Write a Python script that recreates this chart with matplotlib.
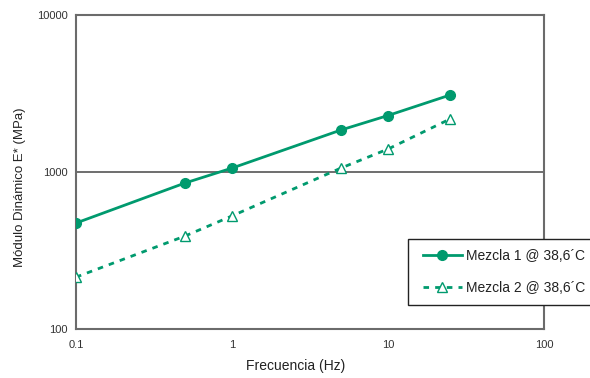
import matplotlib
matplotlib.use('Agg')
import matplotlib.pyplot as plt
from matplotlib.patches import Rectangle
from matplotlib.ticker import FixedLocator, FixedFormatter, NullLocator

plt.rcParams['font.family'] = ['Liberation Sans', 'DejaVu Sans']

# data
freq = [0.1, 0.5, 1, 5, 10, 25]
mezcla1 = [473, 851, 1059, 1852, 2290, 3093]
mezcla2 = [214, 391, 525, 1060, 1400, 2176]
labels = ['Mezcla 1 @ 38,6´C', 'Mezcla 2 @ 38,6´C']

x_ticks = [0.1, 1, 10, 100]
x_ticklabels = ['0.1', '1', '10', '100']
y_ticks = [100, 1000, 10000]
y_ticklabels = ['100', '1000', '10000']

green = '#009a6e'
frame_col = '#6b6b6b'
W, H = 590, 378

fig = plt.figure(figsize=(5.9, 3.78), dpi=100)
ax = fig.add_axes([76/W, 1 - 329/H, 468/W, 314/H])

ax.plot(freq, mezcla1, color=green, lw=2, marker='o', ms=7,
        mfc=green, mec=green, label=labels[0], zorder=3)
ax.plot(freq, mezcla2, color=green, lw=2, ls=(0, (2, 2.2)), marker='^', ms=7,
        mfc='white', mec=green, mew=1.0, label=labels[1], zorder=3)

ax.set_xscale('log')
ax.set_yscale('log')
ax.set_xlim(0.1, 100)
ax.set_ylim(100, 10000)

ax.xaxis.set_major_locator(FixedLocator(x_ticks))
ax.xaxis.set_major_formatter(FixedFormatter(x_ticklabels))
ax.yaxis.set_major_locator(FixedLocator(y_ticks))
ax.yaxis.set_major_formatter(FixedFormatter(y_ticklabels))
ax.xaxis.set_minor_locator(NullLocator())
ax.yaxis.set_minor_locator(NullLocator())
ax.tick_params(axis='both', length=0, labelsize=8, colors='#333333')
ax.tick_params(axis='x', pad=8)
ax.tick_params(axis='y', pad=6)

ax.grid(axis='y', which='major', color='#555555', lw=1.2, zorder=1)
for s in ax.spines.values():
    s.set_color(frame_col)
    s.set_linewidth(1.5)

ax.set_xlabel('Frecuencia (Hz)', fontsize=10, color='#222222')
ax.xaxis.set_label_coords((296 - 76) / 468, -(366 - 329) / 314)
ax.xaxis.label.set_va('center')
ax.set_ylabel('Módulo Dinámico E* (MPa)', fontsize=9.5, color='#222222')
ax.yaxis.set_label_coords((20 - 76) / 468, (329 - 187) / 314)
ax.yaxis.label.set_va('center')

# legend box (extends past the right edge like the reference)
box = Rectangle((408/W, 1 - 305/H), 190/W, 66/H, transform=fig.transFigure,
                facecolor='white', edgecolor='#222222', lw=1.0, zorder=4)
fig.patches.append(box)

leg = fig.legend(loc='upper left', bbox_to_anchor=(423/W, 1 - 249/H),
                 fontsize=10, frameon=False,
                 handlelength=2.8, handletextpad=0.3, labelspacing=1.3,
                 borderpad=0, borderaxespad=0)
leg.set_zorder(5)
for t in leg.get_texts():
    t.set_color('#222222')

fig.savefig('out.png', dpi=100)
